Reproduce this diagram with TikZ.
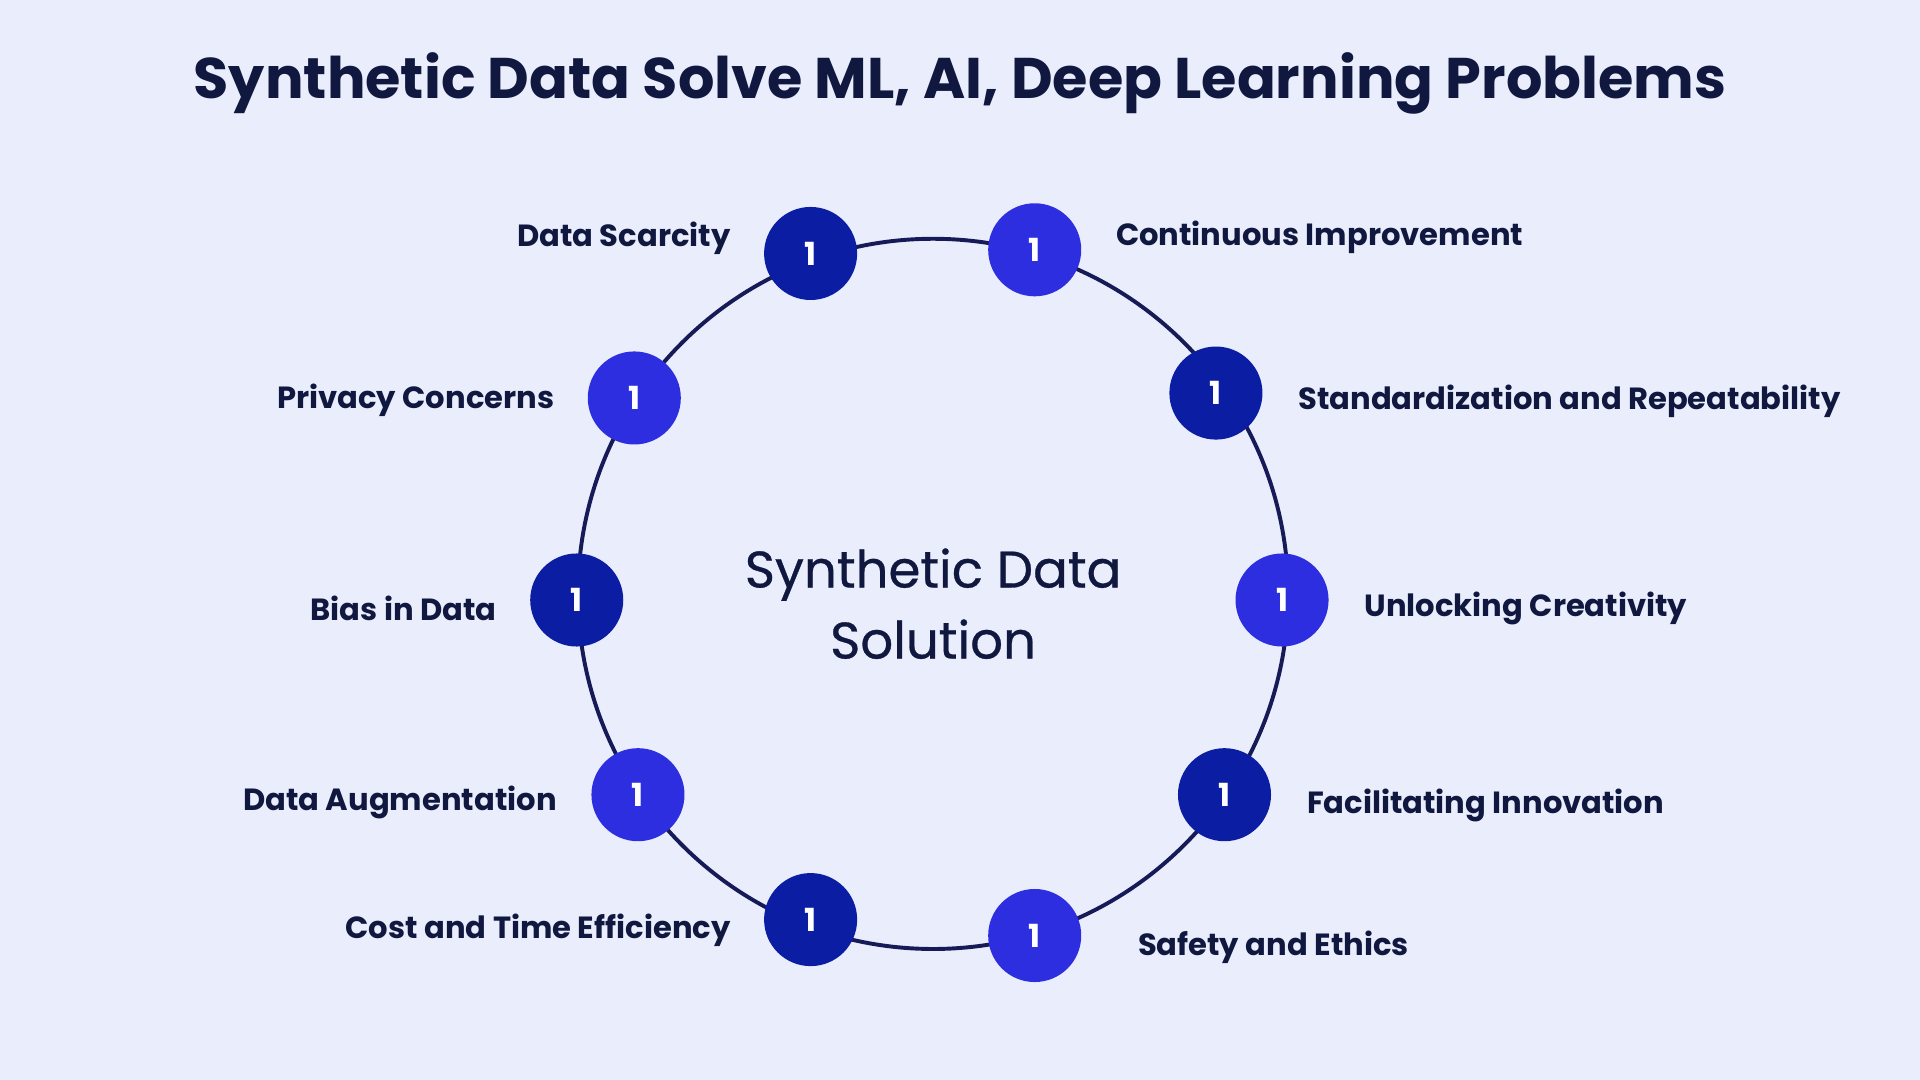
\documentclass[tikz,border=0pt]{standalone}
\usepackage{fontspec}
\setmainfont{Poppins}
\definecolor{bg}{HTML}{EAEEFC}
\definecolor{txt}{HTML}{101840}
\definecolor{dk}{HTML}{0B1DA3}
\definecolor{br}{HTML}{2C2EE0}
\definecolor{ring}{HTML}{161B58}
\begin{document}
\begin{tikzpicture}[x=0.5pt,y=-0.5pt,
  num/.style={circle,minimum size=38pt,inner sep=0pt,text=white,font=\bfseries\fontsize{13}{13}\selectfont},
  lab/.style={text=txt,font=\fontsize{12.5}{14}\selectfont\bfseries,inner sep=0pt}]
\fill[bg] (0,0) rectangle (1568,882);
\useasboundingbox (0,0) rectangle (1568,882);
\node[text=txt,font=\bfseries\fontsize{23.4}{26}\selectfont] (title) at (784,68) {Synthetic Data Solve ML, AI, Deep Learning Problems};
\node[draw=ring,line width=1.6pt,circle,minimum size=290pt,inner sep=0pt] (ring) at (762,485) {};
\node[text=txt,align=center,font=\fontsize{21}{29}\selectfont] (center) at (762,493) {\addfontfeature{FakeBold=0.6}Synthetic Data\\\addfontfeature{FakeBold=0.6}Solution};
\node[num,fill=dk] (n1) at (662,207) {1};
\node[num,fill=br] (n2) at (845,204) {1};
\node[num,fill=dk] (n3) at (993,321) {1};
\node[num,fill=br] (n4) at (1047,490) {1};
\node[num,fill=dk] (n5) at (1000,649) {1};
\node[num,fill=br] (n6) at (845,764) {1};
\node[num,fill=dk] (n7) at (662,751) {1};
\node[num,fill=br] (n8) at (521,649) {1};
\node[num,fill=dk] (n9) at (471,490) {1};
\node[num,fill=br] (n10) at (518,325) {1};
\node[lab,anchor=east] (l1) at (597,195) {Data Scarcity};
\node[lab,anchor=west] (l2) at (911,194) {Continuous Improvement};
\node[lab,anchor=west] (l3) at (1060,328) {Standardization and Repeatability};
\node[lab,anchor=west] (l4) at (1114,497) {Unlocking Creativity};
\node[lab,anchor=west] (l5) at (1067,658) {Facilitating Innovation};
\node[lab,anchor=west] (l6) at (929,774) {Safety and Ethics};
\node[lab,anchor=east] (l7) at (597,760) {Cost and Time Efficiency};
\node[lab,anchor=east] (l8) at (455,655) {Data Augmentation};
\node[lab,anchor=east] (l9) at (406,497) {Bias in Data};
\node[lab,anchor=east] (l10) at (453,327) {Privacy Concerns};
\end{tikzpicture}
\end{document}
